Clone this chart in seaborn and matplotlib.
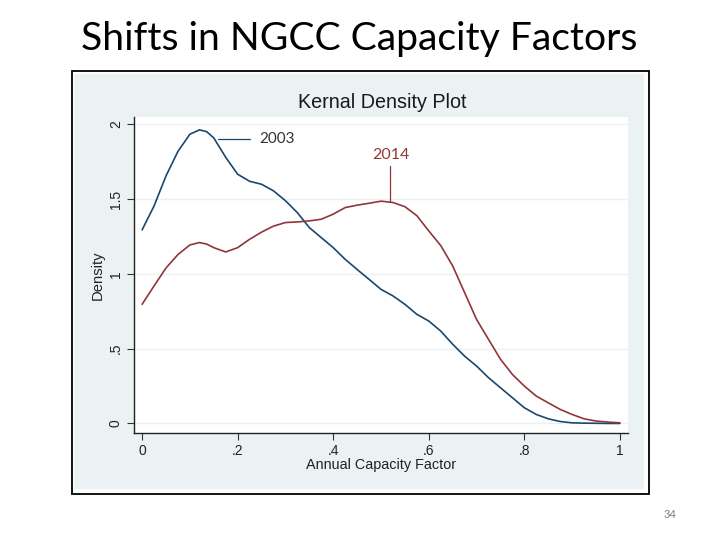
"""
Kernel density comparison of NGCC annual capacity factors, 2003 vs 2014,
redrawn as a slide (title, framed Stata-style chart, page number).
"""

import pandas as pd
import matplotlib
matplotlib.use("Agg")
import matplotlib.pyplot as plt
from matplotlib.patches import Rectangle
import seaborn as sns

# Dados
capacity_factor = [
    0.0, 0.025, 0.05, 0.075, 0.1, 0.12, 0.135, 0.15, 0.175, 0.2, 0.225, 0.25, 0.275,
    0.3, 0.325, 0.35, 0.375, 0.4, 0.425, 0.45, 0.475, 0.5, 0.525, 0.55, 0.575,
    0.6, 0.625, 0.65, 0.675, 0.7, 0.725, 0.75, 0.775, 0.8, 0.825, 0.85, 0.875,
    0.9, 0.925, 0.95, 0.975, 1.0,
]
density_2003 = [
    1.295, 1.455, 1.656, 1.82, 1.935, 1.964, 1.952, 1.91, 1.78, 1.667, 1.62, 1.60, 1.556,
    1.49, 1.41, 1.31, 1.243, 1.176, 1.098, 1.03, 0.964, 0.897, 0.853, 0.797, 0.73,
    0.685, 0.618, 0.53, 0.45, 0.384, 0.306, 0.239, 0.172, 0.105, 0.06, 0.031, 0.013,
    0.004, 0.002, 0.001, 0.0, 0.0,
]
density_2014 = [
    0.797, 0.92, 1.04, 1.13, 1.194, 1.21, 1.2, 1.176, 1.147, 1.176, 1.232, 1.28, 1.32,
    1.344, 1.348, 1.355, 1.366, 1.40, 1.444, 1.46, 1.473, 1.487, 1.478, 1.45, 1.39,
    1.288, 1.19, 1.054, 0.875, 0.696, 0.5625, 0.43, 0.328, 0.25, 0.183, 0.138, 0.094,
    0.06, 0.031, 0.016, 0.009, 0.004,
]
years = ["2003", "2014"]
y_ticks = [0, 0.5, 1, 1.5, 2]
y_tick_labels = ["0", ".5", "1", "1.5", "2"]
x_ticks = [0, 0.2, 0.4, 0.6, 0.8, 1]
x_tick_labels = ["0", ".2", ".4", ".6", ".8", "1"]

NAVY = "#1a476f"
MAROON = "#90353b"
STATA_BG = "#eaf2f3"

df = pd.concat([
    pd.DataFrame({"cf": capacity_factor, "density": density_2003, "year": years[0]}),
    pd.DataFrame({"cf": capacity_factor, "density": density_2014, "year": years[1]}),
])

sns.set_theme(style="white")
plt.rcParams["font.family"] = ["Liberation Sans", "DejaVu Sans"]

fig = plt.figure(figsize=(7.2, 5.4), dpi=100)
fig.patch.set_facecolor("white")

# Moldura da imagem do Stata
fig.patches.append(Rectangle((74 / 720, 1 - 489 / 540), 570 / 720, 415 / 540,
                             transform=fig.transFigure, facecolor=STATA_BG,
                             edgecolor="none", zorder=-10))
fig.patches.append(Rectangle((72 / 720, 1 - 494 / 540), 577 / 720, 423 / 540,
                             transform=fig.transFigure, facecolor="none",
                             edgecolor="black", linewidth=1.3, zorder=5))

ax = fig.add_axes([134 / 720, 1 - 433 / 540, 494 / 720, 316 / 540])
ax.set_facecolor("white")
sns.lineplot(data=df, x="cf", y="density", hue="year",
             palette={"2003": NAVY, "2014": MAROON},
             linewidth=1.2, legend=False, ax=ax,
             solid_joinstyle="round")

ax.set_xlim(-0.017, 1.017)
ax.set_ylim(-0.064, 2.05)
ax.set_yticks(y_ticks)
ax.set_yticklabels(y_tick_labels, rotation=90, va="center")
ax.set_xticks(x_ticks)
ax.set_xticklabels(x_tick_labels)
ax.tick_params(axis="both", direction="out", length=5, width=0.8,
               color="#333333", labelsize=10, labelcolor="#222222", pad=3)
ax.tick_params(axis="x", bottom=True)
ax.tick_params(axis="y", left=True)
for y in y_ticks:
    ax.axhline(y, color=STATA_BG, linewidth=1.0, zorder=0)
for side in ["top", "right"]:
    ax.spines[side].set_visible(False)
for side in ["left", "bottom"]:
    ax.spines[side].set_color("#222222")
    ax.spines[side].set_linewidth(1.0)

ax.set_xlabel("Annual Capacity Factor", fontsize=10.4, color="#222222", labelpad=0)
ax.set_ylabel("Density", fontsize=10.6, color="#222222", labelpad=3)
fig.text(382 / 720, 1 - 103 / 540, "Kernal Density Plot", ha="center",
         va="center", fontsize=14.2, color="#1a1a1a")

# Rótulos das curvas
ax.plot([0.158, 0.226], [1.906, 1.906], color=NAVY, linewidth=0.9)
ax.text(0.245, 1.906, "2003", fontsize=11, color="#333333", va="center",
        family=["Lato", "DejaVu Sans"])
ax.plot([0.519, 0.519], [1.485, 1.72], color=MAROON, linewidth=0.9)
ax.text(0.521, 1.795, "2014", fontsize=11.5, color="#953735", ha="center",
        va="center", family=["Lato", "DejaVu Sans"])

# Título do slide e número da página
fig.text(359 / 720, 1 - 50 / 540, "Shifts in NGCC Capacity Factors",
         ha="center", va="baseline", fontsize=28.2, color="black",
         family=["Lato", "DejaVu Sans"])
fig.text(670 / 720, 1 - 515 / 540, "34", ha="center", va="center",
         fontsize=8, color="#7f7f7f", family=["Lato", "DejaVu Sans"])

fig.savefig("out.png", dpi=100)
